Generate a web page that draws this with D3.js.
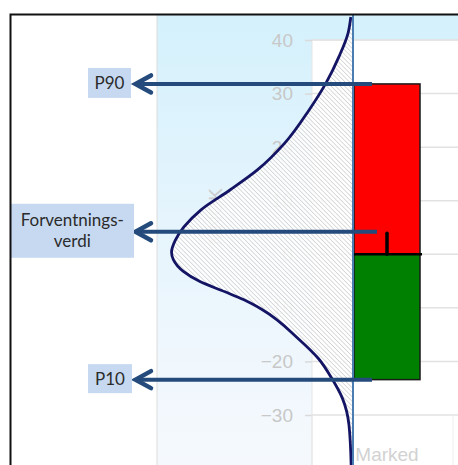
<!DOCTYPE html>
<html>
<head>
<meta charset="utf-8">
<script src="https://cdn.jsdelivr.net/npm/d3@7"></script>
<style>
  html, body { margin: 0; padding: 0; background: #ffffff; }
  svg { display: block; }
</style>
</head>
<body>
<svg id="chart" width="458" height="465"></svg>
<script>
// ---------- DATA ----------
const categories = ["Marked"];
const yTicks = [40, 30, 20, 10, 0, -10, -20, -30];
const upsideValues = [31.8];     // red bar (0 -> P90)
const downsideValues = [-23.4];  // green bar (0 -> P10)
const expectedValues = [4.2];    // black marker
const markerNames = ["P90", "Forventningsverdi", "P10"];
const markerValues = [31.8, 4.2, -23.4];
const markerLines = [["P90"], ["Forventnings-", "verdi"], ["P10"]];
const axisTitle = "MNOK";
// density curve: value on y axis, relative density (peak = 1)
const densityValues = [44.3, 41.3, 36.9, 32.0, 26.9, 20.8, 15.7, 12.0, 8.3, 5.1, 2.7, 0.4, -1.0, -3.2, -5.1, -7.0, -8.5, -10.3, -15.8, -19.5, -23.2, -26.9, -31.9, -39.5];
const densityLevels = [0.012, 0.027, 0.077, 0.148, 0.242, 0.374, 0.527, 0.676, 0.835, 0.929, 0.975, 0.997, 0.987, 0.932, 0.841, 0.703, 0.599, 0.500, 0.299, 0.189, 0.116, 0.058, 0.022, 0.010];

// ---------- SETUP ----------
const W = 458, H = 465;
const svg = d3.select("#chart");
const defs = svg.append("defs");

const y = d3.scaleLinear().domain([-30, 40]).range([415, 40]);
const x = d3.scaleBand().domain(categories).range([312, 462]).paddingInner(0).paddingOuter(0.636);
const dx = d3.scaleLinear().domain([0, 1]).range([353, 171]);

// gradient for background panel
const grad = defs.append("linearGradient").attr("id", "bgGrad")
  .attr("x1", 0).attr("y1", 0).attr("x2", 0).attr("y2", 1);
grad.append("stop").attr("offset", "0%").attr("stop-color", "#d4f1fc");
grad.append("stop").attr("offset", "45%").attr("stop-color", "#e5f4fd");
grad.append("stop").attr("offset", "75%").attr("stop-color", "#eff7fd");
grad.append("stop").attr("offset", "100%").attr("stop-color", "#f5f9fd");

// hatch pattern
const pat = defs.append("pattern").attr("id", "hatch")
  .attr("patternUnits", "userSpaceOnUse").attr("width", 3.2).attr("height", 3.2)
  .attr("patternTransform", "rotate(-45)");
pat.append("rect").attr("width", 3.2).attr("height", 3.2).attr("fill", "#ffffff").attr("fill-opacity", 0.88);
pat.append("line").attr("x1", 0).attr("y1", 0).attr("x2", 0).attr("y2", 3.2)
  .attr("stroke", "#b8b8b8").attr("stroke-width", 1);

// ---------- BACKGROUND ----------
svg.append("rect").attr("x", 0).attr("y", 0).attr("width", W).attr("height", H).attr("fill", "#ffffff");
svg.append("rect").attr("x", 157).attr("y", 15).attr("width", W - 157).attr("height", H - 15).attr("fill", "url(#bgGrad)");
svg.append("line").attr("x1", 157).attr("x2", 157).attr("y1", 15).attr("y2", H)
  .attr("stroke", "#dcdcdc").attr("stroke-width", 1);

// plot area
svg.append("rect").attr("x", 312).attr("y", y(40)).attr("width", W - 312 + 5).attr("height", H - y(40) + 5)
  .attr("fill", "#ffffff").attr("stroke", "#e6e6e6").attr("stroke-width", 1);

// gridlines
svg.append("g").selectAll("line").data(yTicks).join("line")
  .attr("x1", 312).attr("x2", W).attr("y1", d => y(d)).attr("y2", d => y(d))
  .attr("stroke", "#e2e2e2").attr("stroke-width", 1.5);

// y axis
const yAxis = d3.axisLeft(y).tickValues(yTicks).tickSize(7).tickPadding(12).tickFormat(d3.format("d"));
const gy = svg.append("g").attr("transform", "translate(312,0)").call(yAxis);
gy.select(".domain").remove();
gy.selectAll(".tick line").attr("stroke", "#dadada").attr("stroke-width", 1.5);
gy.selectAll(".tick text").attr("fill", "#c8c8c8").attr("font-family", "Liberation Sans, Arial, sans-serif")
  .attr("font-size", 19);

// axis title (mostly hidden)
svg.append("text").attr("transform", "translate(222,188) rotate(-90)")
  .attr("text-anchor", "end").attr("font-family", "Liberation Sans, Arial, sans-serif")
  .attr("font-size", 19).attr("fill", "#cccccc").text(axisTitle);

// category axis
svg.append("line").attr("x1", 312).attr("x2", 312).attr("y1", y(-30)).attr("y2", H).attr("stroke", "#e6e6e6");
svg.append("line").attr("x1", 453).attr("x2", 453).attr("y1", y(-30)).attr("y2", H).attr("stroke", "#eeeeee");
svg.append("g").selectAll("text").data(categories).join("text")
  .attr("x", d => x(d) + x.bandwidth() / 2).attr("y", 461)
  .attr("text-anchor", "middle").attr("font-family", "Liberation Sans, Arial, sans-serif")
  .attr("font-size", 19).attr("fill", "#d2d2d2").text(d => d);

// ---------- DENSITY ----------
const dens = densityValues.map((v, i) => ({ v, d: densityLevels[i] }));
const area = d3.area().y(p => y(p.v)).x0(dx(0)).x1(p => dx(p.d)).curve(d3.curveMonotoneY);
svg.append("path").datum(dens.slice().reverse()).attr("d", area).attr("fill", "url(#hatch)");
const line = d3.line().y(p => y(p.v)).x(p => dx(p.d)).curve(d3.curveMonotoneY);
svg.append("path").datum(dens.slice().reverse()).attr("d", line).attr("fill", "none")
  .attr("stroke", "#141464").attr("stroke-width", 2.8);

// ---------- BARS ----------
const gb = svg.append("g");
gb.selectAll("rect.up").data(categories).join("rect").attr("class", "up")
  .attr("x", d => x(d)).attr("width", x.bandwidth())
  .attr("y", (d, i) => y(upsideValues[i])).attr("height", (d, i) => y(0) - y(upsideValues[i]))
  .attr("fill", "#ff0000").attr("stroke", "#1a1a1a").attr("stroke-width", 1.5);
gb.selectAll("rect.down").data(categories).join("rect").attr("class", "down")
  .attr("x", d => x(d)).attr("width", x.bandwidth())
  .attr("y", y(0)).attr("height", (d, i) => y(downsideValues[i]) - y(0))
  .attr("fill", "#008000").attr("stroke", "#1a1a1a").attr("stroke-width", 1.5);
gb.selectAll("line.zero").data(categories).join("line").attr("class", "zero")
  .attr("x1", d => x(d) - 2).attr("x2", d => x(d) + x.bandwidth() + 2)
  .attr("y1", y(0)).attr("y2", y(0)).attr("stroke", "#000000").attr("stroke-width", 2.5);
gb.selectAll("line.ev").data(categories).join("line").attr("class", "ev")
  .attr("x1", d => x(d) + x.bandwidth() / 2).attr("x2", d => x(d) + x.bandwidth() / 2)
  .attr("y1", (d, i) => y(expectedValues[i]) + 1.5).attr("y2", y(0))
  .attr("stroke", "#000000").attr("stroke-width", 3.5).attr("stroke-linecap", "round");

// vertical reference line
svg.append("line").attr("x1", dx(0)).attr("x2", dx(0)).attr("y1", 15).attr("y2", H)
  .attr("stroke", "#4b7db3").attr("stroke-width", 2);

// ---------- ARROWS + LABELS ----------
const arrowColor = "#244b7c";
const arrowEnd = [372, 377, 372];
const boxes = [
  { x0: 88, x1: 131, h: 30 },
  { x0: 10.5, x1: 134, h: 54 },
  { x0: 88, x1: 132, h: 29 }
];
const ga = svg.append("g");
markerValues.forEach((v, i) => {
  const yy = y(v);
  ga.append("line").attr("x1", 136).attr("x2", arrowEnd[i]).attr("y1", yy).attr("y2", yy)
    .attr("stroke", arrowColor).attr("stroke-width", 4);
  ga.append("path").attr("d", `M151,${yy - 8.5} L135.5,${yy} L151,${yy + 8.5}`)
    .attr("fill", "none").attr("stroke", arrowColor).attr("stroke-width", 4.5)
    .attr("stroke-linecap", "round").attr("stroke-linejoin", "miter");
  const b = boxes[i];
  ga.append("rect").attr("x", b.x0).attr("y", yy - b.h / 2 - 1).attr("width", b.x1 - b.x0).attr("height", b.h)
    .attr("fill", "#c6d9f0");
  const lines = markerLines[i];
  const lh = 21;
  const t = ga.append("text").attr("font-family", "Lato, 'Open Sans', sans-serif").attr("font-size", 17)
    .attr("fill", "#2b2b2b").attr("text-anchor", "middle");
  lines.forEach((s, k) => {
    t.append("tspan").attr("x", (b.x0 + b.x1) / 2)
      .attr("y", yy - 1 + (k - (lines.length - 1) / 2) * lh + 6).text(s);
  });
});

// outer border
svg.append("path").attr("d", `M10.5,${H + 2} L10.5,14.5 L${W + 2},14.5`)
  .attr("fill", "none").attr("stroke", "#111111").attr("stroke-width", 2);
</script>
</body>
</html>
